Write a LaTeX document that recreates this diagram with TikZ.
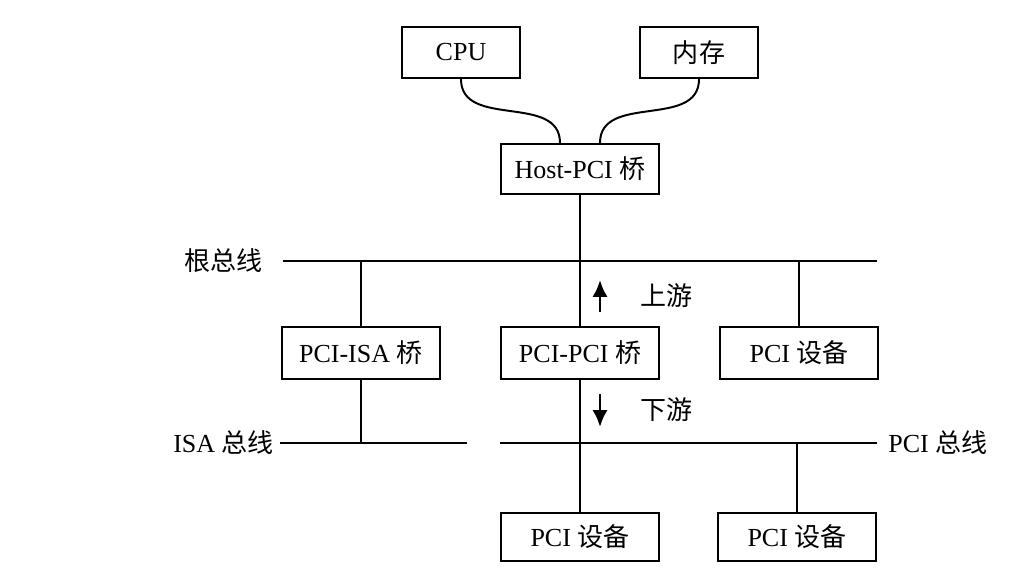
\documentclass[tikz,border=0pt]{standalone}
\usepackage{fontspec}
\setmainfont{Liberation Serif}
\newfontfamily\cjk{Noto Sans CJK SC}
\usetikzlibrary{arrows.meta,positioning}

\begin{document}
\begin{tikzpicture}[
  x=0.025cm, y=-0.025cm,
  box/.style={draw, rectangle, line width=1.5pt, minimum width=3.95cm, minimum height=1.28cm, inner sep=0pt,
    font=\fontsize{18.5}{22}\selectfont},
  lbl/.style={inner sep=0pt, font=\fontsize{18.5}{22}\selectfont},
  bus/.style={line width=1.4pt},
  arr/.style={-{Latex[length=4.2mm,width=3.8mm]}, line width=2pt},
  node distance=1.475cm]
\useasboundingbox (0,0) rectangle (1024,577);
% CPU, 内存 与 Host-PCI 桥
\node[box, minimum width=2.95cm] (cpu) at (461,52.5) {CPU};
\node[box, minimum width=2.95cm] (mem) at (699,52.5) {\cjk 内存};
\node[box, minimum height=1.25cm] (host) at (580,169) {Host-PCI {\cjk 桥}};
\draw[bus] (cpu.south) .. controls +(0,50) and +(0,-50) .. ([xshift=-0.5cm]host.north);
\draw[bus] (mem.south) .. controls +(0,50) and +(0,-50) .. ([xshift=0.5cm]host.north);
% 根总线
\coordinate (root-l) at (283,261);
\coordinate (root-r) at (877,261);
\draw[bus] (root-l) -- (root-r);
\node[lbl, left=5mm of root-l] (root-lbl) {\cjk 根总线};
% 中间一排
\node[box, minimum height=1.32cm] (p2p) at (580,353) {PCI-PCI {\cjk 桥}};
\node[box, minimum height=1.32cm, left=of p2p] (isa) {PCI-ISA {\cjk 桥}};
\node[box, minimum height=1.32cm, right=of p2p] (dev1) {PCI {\cjk 设备}};
\draw[bus] (host.south) -- (p2p.north);
\draw[bus] (isa.north) -- (isa.north |- root-l);
\draw[bus] (dev1.north) -- (dev1.north |- root-l);
% 上游 / 下游
\coordinate (up-s) at (600,312);
\coordinate (up-e) at (600,280);
\draw[arr] (up-s) -- (up-e);
\node[lbl, anchor=west] (up-lbl) at (640,296) {\cjk 上游};
\coordinate (dn-s) at (600,394);
\coordinate (dn-e) at (600,427);
\draw[arr] (dn-s) -- (dn-e);
\node[lbl, anchor=west] (dn-lbl) at (640,410) {\cjk 下游};
% ISA 总线 与 PCI 总线
\coordinate (isab-l) at (280,443);
\coordinate (isab-r) at (467,443);
\coordinate (pcib-l) at (500,443);
\coordinate (pcib-r) at (877,443);
\draw[bus] (isab-l) -- (isab-r);
\draw[bus] (pcib-l) -- (pcib-r);
\node[lbl, left=1.5mm of isab-l] (isab-lbl) {ISA {\cjk 总线}};
\node[lbl, right=2.75mm of pcib-r] (pcib-lbl) {PCI {\cjk 总线}};
\draw[bus] (isa.south) -- (isa.south |- isab-l);
% 下面一排
\node[box, minimum height=1.22cm] (dev2) at (580,537) {PCI {\cjk 设备}};
\node[box, minimum height=1.22cm] (dev3) at (797,537) {PCI {\cjk 设备}};
\draw[bus] (p2p.south) -- (dev2.north);
\draw[bus] (dev3.north) -- (dev3.north |- pcib-r);
\end{tikzpicture}
\end{document}
